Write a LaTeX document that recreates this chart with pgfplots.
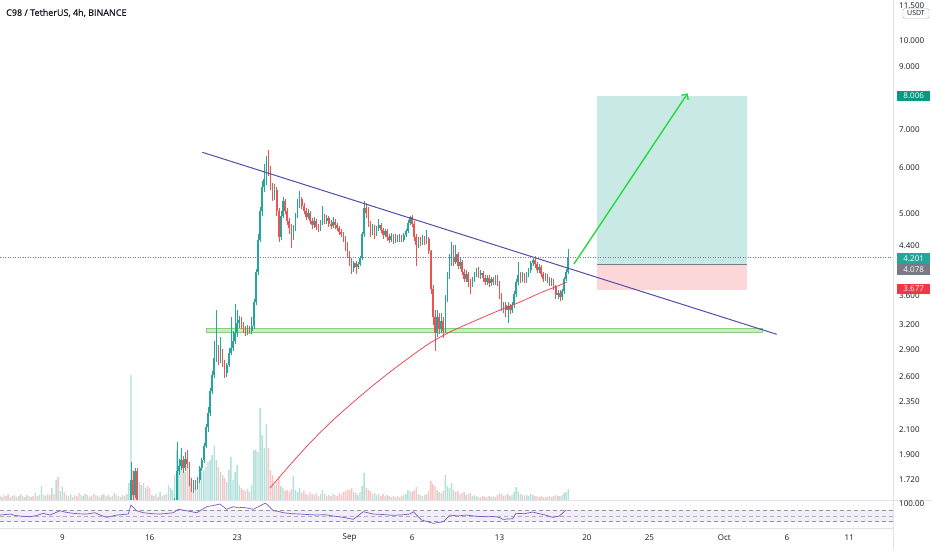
\documentclass[border=0pt]{standalone}
\usepackage{pgfplots}
\usepackage{pgfplotstable}
\pgfplotsset{compat=1.18}
\usetikzlibrary{arrows.meta}
\usepackage{fontspec}
\setmainfont{Open Sans}
\newfontfamily\titlefont[FakeBold=0.6]{Open Sans}
\definecolor{tvgreen}{RGB}{38,166,154}
\definecolor{tvred}{RGB}{239,83,80}
\definecolor{volgreen}{RGB}{178,224,219}
\definecolor{volred}{RGB}{250,196,195}
\definecolor{tvtext}{RGB}{19,23,34}
\definecolor{maline}{RGB}{242,54,69}
\definecolor{trend}{RGB}{82,78,170}
\definecolor{rsiline}{RGB}{126,87,194}
\definecolor{rsiband}{RGB}{242,238,249}
\definecolor{tvgray}{RGB}{120,123,134}
\definecolor{sepline}{RGB}{224,227,235}
\definecolor{posgreen}{RGB}{201,233,228}
\definecolor{posred}{RGB}{252,215,217}
\definecolor{suppfill}{RGB}{205,234,198}
\definecolor{suppdraw}{RGB}{140,205,128}
\definecolor{arrowgreen}{RGB}{40,216,64}
\definecolor{tpgreen}{RGB}{8,153,129}
\definecolor{slred}{RGB}{242,54,69}

\pgfplotstableread{
d o h l c v
14.5 1.50 1.85 1.48 1.72 0
14.667 1.72 1.78 1.58 1.62 0
14.833 1.62 1.80 1.60 1.78 0
15.0 1.78 1.80 1.52 1.56 0
18.0 1.52 1.60 1.50 1.58 25
18.167 1.58 2.00 1.56 1.78 50
18.333 1.78 1.87 1.75 1.82 35
18.5 1.82 1.95 1.79 1.86 45
18.667 1.86 1.89 1.77 1.80 30
18.833 1.80 1.92 1.78 1.87 28
19.0 1.87 1.94 1.80 1.83 40
19.167 1.83 1.85 1.68 1.70 25
19.333 1.70 1.73 1.64 1.66 18
19.5 1.66 1.72 1.63 1.69 15
19.667 1.69 1.72 1.65 1.67 12
19.833 1.67 1.74 1.66 1.72 14
20.0 1.72 1.82 1.70 1.80 22
20.167 1.80 1.88 1.78 1.86 28
20.333 1.86 1.99 1.84 1.97 30
20.5 1.97 2.15 1.95 2.12 33
20.667 2.12 2.30 2.08 2.25 38
20.833 2.25 2.48 2.22 2.45 40
21.0 2.45 2.66 2.42 2.62 45
21.167 2.62 3.00 2.58 2.80 54
21.333 2.80 3.40 2.76 2.88 40
21.5 2.88 2.95 2.72 2.80 33
21.667 2.80 3.05 2.74 2.86 28
21.833 2.86 2.90 2.70 2.74 25
22.0 2.74 2.78 2.58 2.64 22
22.167 2.64 2.75 2.60 2.72 18
22.333 2.72 2.92 2.70 2.86 30
22.5 2.86 3.30 2.84 2.92 43
22.667 2.92 3.12 2.88 3.00 20
22.833 3.00 3.48 2.96 3.10 28
23.0 3.10 3.40 3.05 3.22 35
23.167 3.22 3.32 3.16 3.26 15
23.333 3.26 3.30 3.15 3.20 12
23.5 3.20 3.24 3.10 3.14 10
23.667 3.14 3.18 3.06 3.10 9
23.833 3.10 3.20 3.07 3.16 11
24.0 3.16 3.19 3.08 3.12 8
24.167 3.12 3.30 3.09 3.18 15
24.333 3.18 3.55 3.15 3.50 50
24.5 3.50 4.00 3.46 3.95 50
24.667 3.95 4.60 3.90 4.50 48
24.833 4.50 5.12 4.45 5.05 92
25.0 5.05 5.70 4.95 5.55 65
25.167 5.55 6.10 5.45 5.75 52
25.333 5.75 6.30 5.60 6.20 76
25.5 6.20 6.46 5.80 5.95 52
25.667 5.95 6.05 5.50 5.60 30
25.833 5.60 5.65 5.25 5.35 25
26.0 5.35 5.62 5.28 5.50 15
26.167 5.50 5.55 4.95 5.05 18
26.333 5.05 5.10 4.45 4.55 22
26.5 4.55 5.05 4.50 4.95 14
26.667 4.95 5.35 4.90 5.25 12
26.833 5.25 5.30 4.98 5.05 9
27.0 5.05 5.10 4.78 4.85 10
27.167 4.85 4.90 4.60 4.72 8
27.333 4.72 4.80 4.35 4.55 11
27.5 4.55 4.78 4.50 4.70 24
27.667 4.70 5.00 4.66 4.95 10
27.833 4.95 5.30 4.90 5.20 8
28.0 5.20 5.48 5.10 5.30 12
28.167 5.30 5.35 5.08 5.15 7
28.333 5.15 5.22 4.98 5.05 9
28.5 5.05 5.10 4.86 4.92 6
28.667 4.92 5.08 4.88 5.00 5
28.833 5.00 5.04 4.80 4.85 8
29.0 4.85 4.90 4.70 4.78 6
29.167 4.78 4.92 4.72 4.85 5
29.333 4.85 4.88 4.68 4.74 7
29.5 4.74 4.80 4.65 4.70 4
29.667 4.70 4.86 4.66 4.82 6
29.833 4.82 5.15 4.78 4.92 10
30.0 4.92 4.98 4.80 4.85 6
30.167 4.85 4.96 4.80 4.90 4
30.333 4.90 4.95 4.74 4.80 5
30.5 4.80 4.86 4.70 4.76 4
30.667 4.76 4.92 4.72 4.84 6
30.833 4.84 4.88 4.70 4.78 5
31.0 4.78 4.82 4.66 4.72 4
31.167 4.72 4.76 4.58 4.64 7
31.333 4.64 4.70 4.55 4.60 5
31.5 4.60 4.65 4.45 4.52 8
31.667 4.52 4.56 4.30 4.40 9
31.833 4.40 4.45 4.18 4.25 11
32.0 4.25 4.30 4.05 4.12 10
32.167 4.12 4.18 3.93 4.02 12
32.333 4.02 4.14 3.95 4.10 8
32.5 4.10 4.14 3.92 4.04 7
32.667 4.04 4.12 4.00 4.08 5
32.833 4.08 4.22 4.05 4.18 8
33.0 4.18 4.65 4.15 4.60 14
33.167 4.60 5.25 4.55 5.10 27
33.333 5.10 5.22 4.90 5.00 12
33.5 5.00 5.12 4.74 4.80 10
33.667 4.80 4.85 4.55 4.62 9
33.833 4.62 4.80 4.58 4.75 6
34.0 4.75 4.78 4.52 4.60 7
34.167 4.60 4.76 4.56 4.72 5
34.333 4.72 4.88 4.66 4.78 6
34.5 4.78 4.82 4.62 4.68 4
34.667 4.68 4.72 4.52 4.58 6
34.833 4.58 4.70 4.54 4.66 4
35.0 4.66 4.70 4.48 4.55 5
35.167 4.55 4.60 4.44 4.50 4
35.333 4.50 4.62 4.46 4.56 3
35.5 4.56 4.60 4.42 4.48 4
35.667 4.48 4.60 4.44 4.54 3
35.833 4.54 4.58 4.45 4.50 4
36.0 4.50 4.60 4.46 4.55 3
36.167 4.55 4.58 4.45 4.50 4
36.333 4.50 4.62 4.46 4.58 5
36.5 4.58 4.70 4.55 4.66 6
36.667 4.66 4.86 4.62 4.82 10
36.833 4.82 4.95 4.78 4.92 9
37.0 4.92 4.96 4.74 4.80 8
37.167 4.80 4.85 4.48 4.55 10
37.333 4.55 4.60 4.05 4.40 13
37.5 4.40 4.55 4.35 4.50 6
37.667 4.50 4.55 4.38 4.45 5
37.833 4.45 4.58 4.40 4.52 4
38.0 4.52 4.56 4.40 4.46 5
38.167 4.46 4.68 4.42 4.52 6
38.333 4.52 4.55 4.25 4.30 9
38.5 4.30 4.32 3.62 3.70 19
38.667 3.70 3.75 3.20 3.30 16
38.833 3.30 3.40 2.88 3.10 14
39.0 3.10 3.40 3.05 3.30 10
39.167 3.30 3.35 3.08 3.15 8
39.333 3.15 3.36 3.10 3.25 7
39.5 3.25 3.30 3.03 3.12 9
39.667 3.12 3.60 3.10 3.55 25
39.833 3.55 3.95 3.50 3.90 14
40.0 3.90 4.25 3.85 4.10 12
40.167 4.10 4.45 4.05 4.20 17
40.333 4.20 4.40 4.05 4.12 10
40.5 4.12 4.40 4.08 4.25 8
40.667 4.25 4.28 4.00 4.05 9
40.833 4.05 4.18 4.00 4.12 6
41.0 4.12 4.15 3.90 3.95 7
41.167 3.95 4.00 3.80 3.85 8
41.333 3.85 3.98 3.80 3.92 5
41.5 3.92 3.95 3.72 3.80 6
41.667 3.80 3.84 3.62 3.76 7
41.833 3.76 3.88 3.72 3.84 4
42.0 3.84 3.96 3.80 3.92 5
42.167 3.92 4.02 3.88 3.98 4
42.333 3.98 4.04 3.86 3.90 3
42.5 3.90 3.98 3.84 3.94 3
42.667 3.94 3.97 3.80 3.86 4
42.833 3.86 3.90 3.75 3.80 3
43.0 3.80 3.90 3.76 3.86 3
43.167 3.86 3.90 3.72 3.78 4
43.333 3.78 3.88 3.74 3.84 3
43.5 3.84 3.88 3.75 3.80 4
43.667 3.80 3.90 3.76 3.86 3
43.833 3.86 3.90 3.74 3.80 5
44.0 3.80 3.82 3.55 3.60 7
44.167 3.60 3.64 3.38 3.42 6
44.333 3.42 3.50 3.36 3.46 4
44.5 3.46 3.50 3.30 3.40 5
44.667 3.40 3.50 3.22 3.45 6
44.833 3.45 3.48 3.34 3.40 4
45.0 3.40 3.50 3.36 3.46 5
45.167 3.46 3.66 3.42 3.62 8
45.333 3.62 3.85 3.58 3.80 13
45.5 3.80 4.12 3.75 3.90 9
45.667 3.90 3.96 3.78 3.84 6
45.833 3.84 3.95 3.80 3.90 5
46.0 3.90 3.94 3.78 3.82 4
46.167 3.82 3.96 3.78 3.92 5
46.333 3.92 4.02 3.88 3.98 4
46.5 3.98 4.14 3.94 4.10 6
46.667 4.10 4.20 4.05 4.15 5
46.833 4.15 4.21 4.02 4.08 4
47.0 4.08 4.12 3.94 3.98 4
47.167 3.98 4.08 3.94 4.04 3
47.333 4.04 4.06 3.88 3.92 4
47.5 3.92 3.96 3.80 3.85 3
47.667 3.85 3.94 3.82 3.90 3
47.833 3.90 3.92 3.78 3.84 3
48.0 3.84 3.88 3.74 3.78 4
48.167 3.78 3.86 3.74 3.82 3
48.333 3.82 3.85 3.68 3.72 4
48.5 3.72 3.75 3.55 3.60 5
48.667 3.60 3.68 3.55 3.64 4
48.833 3.64 3.68 3.52 3.58 4
49.0 3.58 3.70 3.54 3.66 5
49.167 3.66 3.88 3.62 3.85 7
49.333 3.85 4.00 3.82 3.95 8
49.5 3.95 4.33 3.92 4.201 11
}\candles

% volume of the 4h bars from Aug 4 00:00 to Aug 17 20:00 (index n, bar at day 4+n/6)
\pgfplotstableread{
v g
4 1
3 0
5 1
4 0
6 0
3 1
4 1
5 0
3 0
4 1
6 1
4 0
3 1
5 0
4 1
3 0
4 0
7 1
4 0
5 1
14 1
5 0
4 1
6 0
5 0
12 1
6 0
20 1
23 0
9 1
13 1
8 0
5 1
4 0
6 1
3 0
5 1
4 0
7 0
5 1
4 1
6 0
5 1
3 0
4 0
6 1
5 0
4 1
3 0
5 1
6 0
4 1
5 0
3 1
4 0
7 1
5 0
4 1
3 0
5 1
4 0
6 1
17 1
125 1
30 0
28 0
22 0
18 1
15 1
17 0
12 1
14 0
12 0
5 1
4 0
6 1
3 0
8 1
4 0
5 1
6 0
15 1
12 1
10 1
}\earlyvol

\pgfplotstableread{
d r
4.013 53.3
4.813 56.8
5.2 52.0
5.614 49.7
6.414 47.3
6.9 51.0
7.479 59.3
8.015 53.3
8.816 68.5
9.3 63.0
9.881 59.3
10.4 57.5
10.953 56.8
11.618 61.4
12.1 52.0
12.554 45.1
13.355 53.3
14.283 56.8
14.500 88.7
14.956 68.5
15.484 61.4
16.2 58.0
16.821 56.8
17.4 59.0
17.886 61.4
18.286 73.5
18.958 68.5
19.759 61.4
20.559 82.7
21.2 88.0
21.624 92.2
22.160 73.5
22.689 82.7
23.1 79.0
23.489 80.5
24.290 73.5
24.8 85.0
25.226 94.7
25.362 92.2
25.891 68.5
26.3 66.0
26.691 61.4
27.4 58.0
28.028 56.8
28.7 55.0
29.365 53.3
30.0 54.5
30.694 49.7
31.5 45.0
32.295 38.1
33.095 65.0
33.896 56.8
34.7 55.0
35.497 52.2
36.2 54.0
36.834 56.8
37.098 65.0
37.771 35.6
38.699 23.9
39.500 29.6
40.036 53.3
40.7 50.0
41.317 53.3
42.1 49.0
42.918 47.3
43.5 48.0
43.983 45.1
44.255 38.1
45.055 40.2
45.319 59.3
46.0 58.0
46.656 63.9
47.056 59.3
47.7 53.0
48.257 45.1
48.786 49.7
49.322 71.0
}\rsidata

\begin{document}
\begin{tikzpicture}
\useasboundingbox (0pt,0pt) rectangle (932pt,550pt);
\fill[white] (0pt,0pt) rectangle (932pt,550pt);

% ---------- volume ----------
\begin{axis}[at={(0pt,50pt)}, anchor=south west, width=893pt, height=500pt,
  scale only axis, xmin=4.013, xmax=75.5, ymin=0, ymax=500, hide axis]
\addplot[ybar, bar width=1.4pt, bar shift=0pt, fill=volgreen, draw=none]
  table[x expr={4+\coordindex/6}, y expr={\thisrow{g}>0 ? \thisrow{v} : 0}] {\earlyvol};
\addplot[ybar, bar width=1.4pt, bar shift=0pt, fill=volred, draw=none]
  table[x expr={4+\coordindex/6}, y expr={\thisrow{g}>0 ? 0 : \thisrow{v}}] {\earlyvol};
\addplot[ybar, bar width=1.4pt, bar shift=0pt, fill=volgreen, draw=none]
  table[x=d, y expr={\thisrow{c}>=\thisrow{o} ? \thisrow{v} : 0}] {\candles};
\addplot[ybar, bar width=1.4pt, bar shift=0pt, fill=volred, draw=none]
  table[x=d, y expr={\thisrow{c}>=\thisrow{o} ? 0 : \thisrow{v}}] {\candles};
\end{axis}

% ---------- price pane (y = natural log of price) ----------
\begin{axis}[at={(0pt,50pt)}, anchor=south west, width=893pt, height=500pt,
  scale only axis, xmin=4.013, xmax=75.5, ymin=0.460902, ymax=2.464907,
  axis line style={draw=none}, major tick length=0pt, xtick=\empty,
  ytick={0.542324,0.641854,0.741937,0.854415,0.955511,1.064711,1.163151,1.280934,1.481605,1.609438,1.791759,1.945910,2.197225,2.302585,2.442347},
  yticklabels={1.720,1.900,2.100,2.350,2.600,2.900,3.200,3.600,4.400,5.000,6.000,7.000,9.000,10.000,11.500},
  yticklabel pos=right,
  yticklabel style={anchor=west, inner sep=0pt, xshift=6pt, text=tvtext, font=\fontsize{8}{9.6}\selectfont}]

% long position tool
\addplot[fill=posgreen, draw=none] table[row sep=\\, y expr={ln(\thisrow{p})}]
  {d p\\ 51.84 4.078\\ 63.81 4.078\\ 63.81 8.006\\ 51.84 8.006\\} -- cycle;
\addplot[fill=posred, draw=none] table[row sep=\\, y expr={ln(\thisrow{p})}]
  {d p\\ 51.84 3.677\\ 63.81 3.677\\ 63.81 4.078\\ 51.84 4.078\\} -- cycle;
\addplot[tvgray, line width=0.7pt] table[row sep=\\, y expr={ln(\thisrow{p})}]
  {d p\\ 51.84 4.078\\ 63.81 4.078\\};

% support zone
\addplot[fill=suppfill, draw=suppdraw, line width=0.7pt] table[row sep=\\, y expr={ln(\thisrow{p})}]
  {d p\\ 20.503 3.1026\\ 65.07 3.1026\\ 65.07 3.1553\\ 20.503 3.1553\\} -- cycle;

% wicks
\addplot[draw=none, mark=none, forget plot, error bars/.cd, y dir=plus, y explicit, error mark=none,
  error bar style={draw=tvgreen, line width=0.6pt, solid}]
  table[x=d, y expr={\thisrow{c}>=\thisrow{o} ? ln(\thisrow{l}) : -10},
        y error plus expr={ln(\thisrow{h})-ln(\thisrow{l})}] {\candles};
\addplot[draw=none, mark=none, forget plot, error bars/.cd, y dir=plus, y explicit, error mark=none,
  error bar style={draw=tvred, line width=0.6pt, solid}]
  table[x=d, y expr={\thisrow{c}>=\thisrow{o} ? -10 : ln(\thisrow{l})},
        y error plus expr={ln(\thisrow{h})-ln(\thisrow{l})}] {\candles};
% bodies
\addplot[draw=none, mark=none, forget plot, error bars/.cd, y dir=plus, y explicit, error mark=none,
  error bar style={draw=tvgreen, line width=1.6pt, solid}]
  table[x=d, y expr={\thisrow{c}>=\thisrow{o} ? ln(\thisrow{o}) : -10},
        y error plus expr={abs(ln(\thisrow{c})-ln(\thisrow{o}))}] {\candles};
\addplot[draw=none, mark=none, forget plot, error bars/.cd, y dir=plus, y explicit, error mark=none,
  error bar style={draw=tvred, line width=1.6pt, solid}]
  table[x=d, y expr={\thisrow{c}>=\thisrow{o} ? -10 : ln(\thisrow{c})},
        y error plus expr={abs(ln(\thisrow{o})-ln(\thisrow{c}))}] {\candles};

% moving average
\addplot[maline, line width=0.7pt, smooth] table[row sep=\\, y expr={ln(\thisrow{p})}]
  {d p\\ 25.627 1.663\\ 27.228 1.825\\ 28.829 1.993\\ 30.430 2.159\\ 32.031 2.320\\
   33.632 2.484\\ 35.233 2.648\\ 36.834 2.812\\ 38.435 2.975\\ 40.036 3.109\\
   41.637 3.223\\ 44.038 3.395\\ 45.639 3.506\\ 47.240 3.635\\ 48.841 3.753\\ 49.402 3.799\\};

% trend line
\addplot[trend, line width=1pt] table[row sep=\\, y expr={ln(\thisrow{p})}]
  {d p\\ 20.207 6.389\\ 66.19 3.080\\};

% last price line
\addplot[tvgreen, line width=0.6pt, dash pattern=on 1pt off 1.5pt] table[row sep=\\, y expr={ln(\thisrow{p})}]
  {d p\\ 4.013 4.201\\ 75.5 4.201\\};

% target arrow
\addplot[arrowgreen, line width=1.4pt, -{Straight Barb[length=4pt, width=8pt]}]
  table[row sep=\\, y expr={ln(\thisrow{p})}]
  {d p\\ 49.962 4.083\\ 59.06 8.09\\};
\end{axis}

% ---------- RSI pane ----------
\begin{axis}[at={(0pt,21.7pt)}, anchor=south west, width=893pt, height=28.3pt,
  scale only axis, xmin=4.013, xmax=75.5, ymin=6.4, ymax=106.4,
  axis line style={draw=none}, major tick length=0pt, ytick=\empty,
  xtick={9,16,23,32,37,44,51,56,62,67,72},
  xticklabels={9,16,23,Sep,6,13,20,25,Oct,6,11},
  xticklabel style={anchor=center, yshift=-9.6pt, text=tvtext, font=\fontsize{8}{9.6}\selectfont}]
\addplot[fill=rsiband, draw=none] table[row sep=\\]
  {d r\\ 4.013 30\\ 75.5 30\\ 75.5 70\\ 4.013 70\\} -- cycle;
\addplot[tvgray!80, line width=0.6pt, dash pattern=on 4pt off 3pt] table[row sep=\\] {d r\\ 4.013 70\\ 75.5 70\\};
\addplot[tvgray!60, line width=0.6pt, dash pattern=on 4pt off 3pt] table[row sep=\\] {d r\\ 4.013 50\\ 75.5 50\\};
\addplot[tvgray!80, line width=0.6pt, dash pattern=on 4pt off 3pt] table[row sep=\\] {d r\\ 4.013 30\\ 75.5 30\\};
\addplot[rsiline, line width=0.7pt] table[x=d, y=r] {\rsidata};
\end{axis}

% ---------- frame, scale labels ----------
\draw[sepline, line width=0.8pt] (0pt,50pt) -- (932pt,50pt);
\draw[sepline, line width=0.8pt] (0pt,21.7pt) -- (893pt,21.7pt);
\draw[sepline, line width=0.8pt] (893pt,0pt) -- (893pt,550pt);

\node[anchor=west, inner sep=0pt, text=tvtext, font=\titlefont\fontsize{9}{10.5}\selectfont] at (6pt,537pt) {C98 / TetherUS, 4h, BINANCE};

\node[draw=tvgray!60, fill=white, rounded corners=1.5pt, inner sep=0pt, minimum width=26pt, minimum height=10pt,
  text=tvtext, font=\fontsize{7}{8}\selectfont] at (916pt,536.5pt) {USDT};

\tikzset{tag/.style={anchor=west, inner sep=0pt, minimum width=33pt, minimum height=10.5pt, text=white,
  font=\fontsize{8}{9.6}\selectfont}}
\node[tag, fill=tpgreen] at (897pt,454pt) {8.006};
\node[tag, fill=tvgreen] at (897pt,291.7pt) {4.201};
\node[tag, fill=tvgray] at (897pt,280.7pt) {4.078};
\node[tag, fill=slred] at (897pt,261.2pt) {3.677};

\begin{scope}
\clip (893.5pt,0pt) rectangle (932pt,49.6pt);
\node[anchor=west, inner sep=0pt, text=tvtext, font=\fontsize{8}{9.6}\selectfont] at (899pt,46.5pt) {100.00};
\end{scope}
\end{tikzpicture}
\end{document}
